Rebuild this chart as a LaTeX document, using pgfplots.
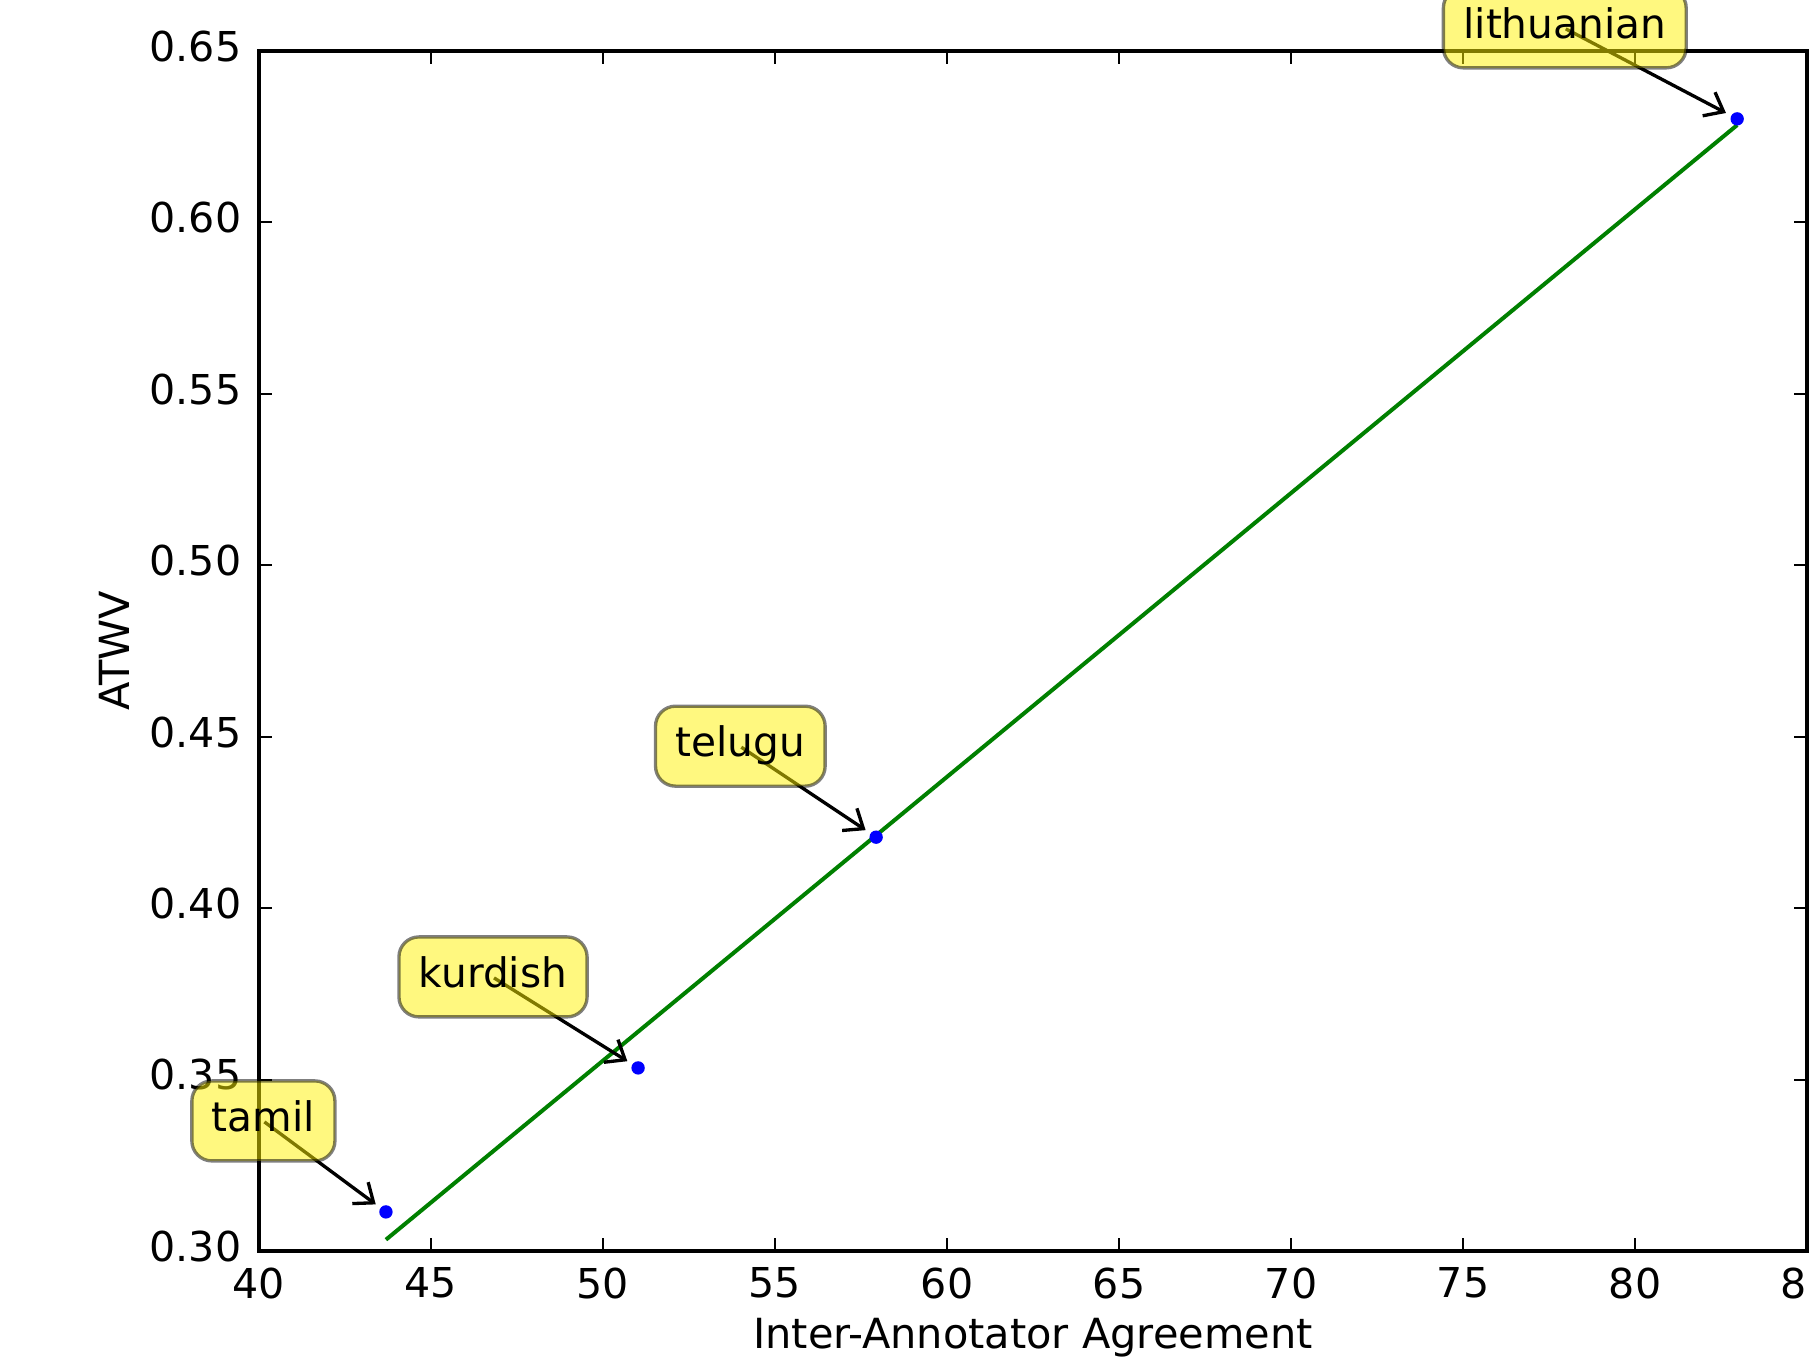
\documentclass[border=0pt]{standalone}
\usepackage{fontspec}
\setmainfont{DejaVu Sans}
\usepackage{pgfplots}
\pgfplotsset{compat=1.18}
\usetikzlibrary{arrows.meta}
\definecolor{mplgreen}{rgb}{0,0.5,0}
\tikzset{
  boxsty/.style={rounded corners=6pt, inner xsep=6pt, inner ysep=6pt,
    text height=9.1pt, text depth=2.9pt, font=\fontsize{12.2pt}{14.4pt}\selectfont},
  arrsty/.style={-{Straight Barb[length=5pt,width=8pt]}, line width=1pt, black, shorten >=3.8pt}
}
\newcommand{\annot}[4]{%
  \path (axis cs:#1,#2) ++(-14.8pt,14.8pt) node[boxsty, anchor=south east, opacity=0] (#4) {#3};
  \draw[arrsty] (#4.center) -- (axis cs:#1,#2);
  \path (axis cs:#1,#2) ++(-14.8pt,14.8pt) node[boxsty, anchor=south east, fill=yellow, fill opacity=0.5, draw=black, draw opacity=0.5, line width=1pt, text opacity=1] {#3};
}
\begin{document}
\begin{tikzpicture}
\begin{axis}[
  scale only axis, width=464.4pt, height=360pt,
  xmin=40, xmax=85, ymin=0.30, ymax=0.65,
  xtick={40,45,50,55,60,65,70,75,80,85},
  ytick={0.30,0.35,0.40,0.45,0.50,0.55,0.60,0.65},
  /pgf/number format/assume math mode=true,
  tick label style={font=\fontsize{12.35pt}{14.4pt}\selectfont},
  label style={font=\fontsize{12.45pt}{14.4pt}\selectfont},
  tick align=inside, major tick length=4pt,
  axis line style={line width=1pt, black},
  every tick/.style={black, line width=0.6pt},
  xticklabel style={anchor=north, inner sep=0pt, yshift=-4.8pt},
  yticklabel style={anchor=east, inner sep=0pt, xshift=-5.1pt, yshift=1.4pt,
    /pgf/number format/fixed, /pgf/number format/fixed zerofill, /pgf/number format/precision=2},
  xlabel={Inter-Annotator Agreement},
  ylabel={ATWV},
  xlabel style={at={(axis description cs:0.5,0)}, anchor=north, inner sep=0pt, yshift=-20pt},
  ylabel style={at={([xshift=-38.7pt]axis description cs:0,0.5)}, anchor=south, inner sep=0pt},
  clip=false,
]
\addplot[mplgreen, line width=1.2pt] coordinates {(43.69,0.3033) (82.97,0.6284)};
\addplot[only marks, mark=*, mark size=1.8pt, draw=blue, fill=blue, mark options={draw=blue, fill=blue}] coordinates {(43.69,0.3114) (51.02,0.3534) (57.94,0.4207) (82.97,0.6302)};
\annot{43.69}{0.3114}{tamil}{ta}
\annot{51.02}{0.3534}{kurdish}{ku}
\annot{57.94}{0.4207}{telugu}{te}
\annot{82.97}{0.6302}{lithuanian}{li}
\coordinate (SW) at (rel axis cs:0,0);
\coordinate (NE) at (rel axis cs:1,1);
\end{axis}
\pgfresetboundingbox
\useasboundingbox ([xshift=-77.7pt, yshift=-33.9pt]SW) rectangle ([xshift=0.6pt, yshift=15.3pt]NE);
\end{tikzpicture}
\end{document}
